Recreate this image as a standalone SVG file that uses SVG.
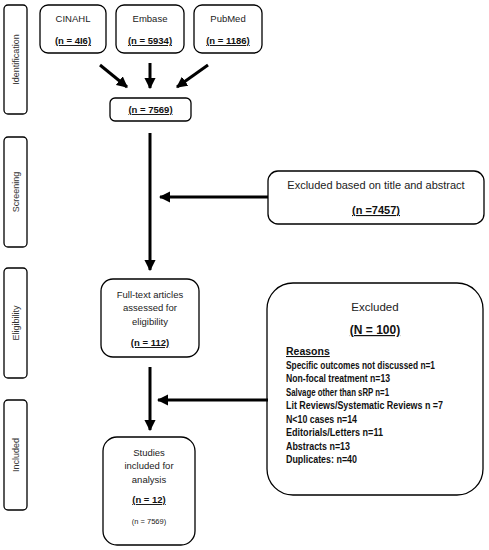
<svg xmlns="http://www.w3.org/2000/svg" width="489" height="550" viewBox="0 0 489 550">
<style>
.box{fill:#fff;stroke:#000;stroke-width:1.3}
.t{font-family:"Liberation Sans",Arial,sans-serif;font-size:9.5px;fill:#222;text-anchor:middle}
.b{font-weight:bold;text-decoration:underline;fill:#111}
.side{font-family:"Liberation Sans",Arial,sans-serif;font-size:9px;fill:#333;text-anchor:middle}
.r{font-family:"Liberation Sans",Arial,sans-serif;font-size:10.5px;font-weight:bold;fill:#111}
.c{stroke:#000;stroke-width:3;fill:none}
</style>
<defs>
<marker id="ah" viewBox="0 0 10 10" refX="9" refY="5" markerWidth="3.7" markerHeight="3.7" orient="auto" markerUnits="strokeWidth">
<path d="M0,0 L10,5 L0,10 z" fill="#000"/>
</marker>
</defs>
<g id="side-identification"><rect class="box" x="4" y="5" width="23" height="109" rx="4"/><text class="side" transform="translate(18.5,59.5) rotate(-90)">Identification</text></g>
<g id="side-screening"><rect class="box" x="4" y="137" width="23" height="110" rx="4"/><text class="side" transform="translate(18.5,192) rotate(-90)">Screening</text></g>
<g id="side-eligibility"><rect class="box" x="4" y="268" width="23" height="110" rx="4"/><text class="side" transform="translate(18.5,323) rotate(-90)">Eligibility</text></g>
<g id="side-included"><rect class="box" x="4" y="400" width="23" height="110" rx="4"/><text class="side" transform="translate(18.5,455) rotate(-90)">Included</text></g>
<g id="cinahl"><rect class="box" x="40" y="5" width="66" height="48" rx="8"/><text class="t" x="73" y="22">CINAHL</text><text class="t b" x="73" y="44">(n = 4I6)</text></g>
<g id="embase"><rect class="box" x="116" y="5" width="68" height="48" rx="8"/><text class="t" x="150" y="22">Embase</text><text class="t b" x="150" y="44">(n = 5934)</text></g>
<g id="pubmed"><rect class="box" x="194" y="5" width="68" height="48" rx="8"/><text class="t" x="228" y="22">PubMed</text><text class="t b" x="228" y="44">(n = 1186)</text></g>
<g id="total"><rect class="box" x="110" y="98" width="81" height="23" rx="5"/><text class="t b" x="150.5" y="113">(n = 7569)</text></g>
<g id="excluded-title"><rect class="box" x="268" y="171" width="216" height="53" rx="10"/><text class="t" x="376" y="189" style="font-size:11px">Excluded based on title and abstract</text><text class="t b" x="376" y="214" style="font-size:11px">(n =7457)</text></g>
<g id="fulltext"><rect class="box" x="101" y="279" width="98" height="78" rx="12"/><text class="t" x="150" y="298">Full-text articles</text><text class="t" x="150" y="311">assessed for</text><text class="t" x="150" y="325">eligibility</text><text class="t b" x="150" y="346">(n = 112)</text></g>
<g id="excluded-fulltext"><rect class="box" x="267" y="283" width="216" height="212" rx="26"/>
<text class="t" x="375" y="311" style="font-size:11.5px">Excluded</text>
<text class="t b" x="375" y="334" style="font-size:12px">(N = 100)</text>
<text class="r" x="286" y="355" style="text-decoration:underline">Reasons</text>
<text class="r" x="286" y="369" textLength="149" lengthAdjust="spacingAndGlyphs">Specific outcomes not discussed n=1</text>
<text class="r" x="286" y="382" textLength="104" lengthAdjust="spacingAndGlyphs">Non-focal treatment n=13</text>
<text class="r" x="286" y="396" textLength="103" lengthAdjust="spacingAndGlyphs">Salvage other than sRP n=1</text>
<text class="r" x="286" y="409" textLength="157" lengthAdjust="spacingAndGlyphs">Lit Reviews/Systematic Reviews n =7</text>
<text class="r" x="286" y="423" textLength="71" lengthAdjust="spacingAndGlyphs">N&lt;10 cases n=14</text>
<text class="r" x="286" y="436" textLength="97" lengthAdjust="spacingAndGlyphs">Editorials/Letters n=11</text>
<text class="r" x="286" y="450" textLength="64" lengthAdjust="spacingAndGlyphs">Abstracts n=13</text>
<text class="r" x="286" y="463" textLength="71" lengthAdjust="spacingAndGlyphs">Duplicates: n=40</text>
</g>
<g id="included"><rect class="box" x="103" y="437" width="92" height="108" rx="14"/><text class="t" x="149" y="456">Studies</text><text class="t" x="149" y="469">included for</text><text class="t" x="149" y="483">analysis</text><text class="t b" x="149" y="503">(n = 12)</text><text class="t" x="149" y="524" style="font-size:7.5px">(n = 7569)</text></g>
<g id="connectors">
<line class="c" x1="100" y1="65" x2="127" y2="87" marker-end="url(#ah)"/>
<line class="c" x1="150" y1="63" x2="150" y2="88" marker-end="url(#ah)"/>
<line class="c" x1="208" y1="65" x2="177" y2="87" marker-end="url(#ah)"/>
<line class="c" x1="150" y1="133" x2="150" y2="270" marker-end="url(#ah)"/>
<line class="c" x1="268" y1="197" x2="160" y2="197" marker-end="url(#ah)"/>
<line class="c" x1="150" y1="367" x2="150" y2="430" marker-end="url(#ah)"/>
<line class="c" x1="268" y1="400" x2="158" y2="400" marker-end="url(#ah)"/>
</g>
</svg>
